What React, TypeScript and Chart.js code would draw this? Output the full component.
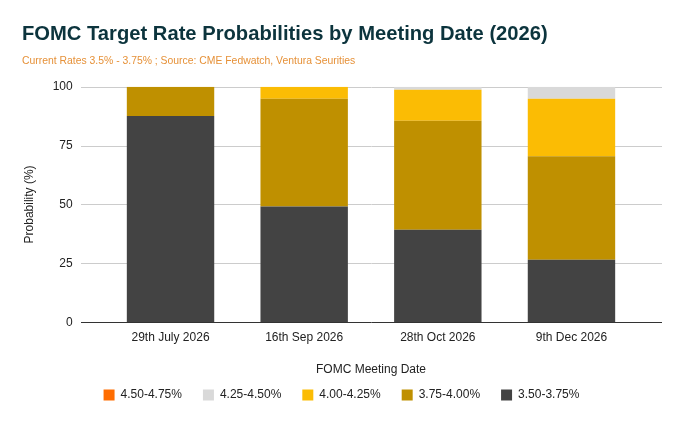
import React, { useEffect, useRef } from "react";
import { Chart, registerables } from "chart.js";

Chart.register(...registerables);

const categories = ["29th July 2026", "16th Sep 2026", "28th Oct 2026", "9th Dec 2026"];
const r350_375 = [87.6, 49.1, 39.3, 26.5];
const r375_400 = [12.4, 45.8, 46.2, 44.0];
const r400_425 = [0, 5.1, 13.2, 24.4];
const r425_450 = [0, 0, 1.3, 5.1];
const r450_475 = [0, 0, 0, 0];
const yTicks = [0, 25, 50, 75, 100];

const FONT = "Arial, 'Liberation Sans', sans-serif";

const gridPlugin = {
  id: "extGrid",
  beforeDatasetsDraw(chart: any) {
    const { ctx, scales } = chart;
    const y = scales.y;
    const x0 = 81;
    const x1 = 662;
    ctx.save();
    yTicks.forEach((v) => {
      const py = Math.round(y.getPixelForValue(v)) + 0.5;
      ctx.beginPath();
      ctx.strokeStyle = v === 0 ? "#333333" : "#cccccc";
      ctx.lineWidth = 1;
      ctx.moveTo(x0, py);
      ctx.lineTo(x1, py);
      ctx.stroke();
    });
    ctx.restore();
  },
};

export default function App() {
  const ref = useRef<HTMLCanvasElement | null>(null);
  useEffect(() => {
    document.body.style.margin = "0";
    const canvas = ref.current!;
    const chart = new Chart(canvas, {
      type: "bar",
      data: {
        labels: categories,
        datasets: [
          { label: "3.50-3.75%", data: r350_375, backgroundColor: "#434343" },
          { label: "3.75-4.00%", data: r375_400, backgroundColor: "#bf9000" },
          { label: "4.00-4.25%", data: r400_425, backgroundColor: "#fbbc04" },
          { label: "4.25-4.50%", data: r425_450, backgroundColor: "#d9d9d9" },
          { label: "4.50-4.75%", data: r450_475, backgroundColor: "#ff6d01" },
        ],
      },
      options: {
        responsive: false,
        animation: false,
        maintainAspectRatio: false,
        datasets: { bar: { barPercentage: 0.654, categoryPercentage: 1, borderWidth: 0 } } as any,
        layout: { padding: { left: 22, right: 22, top: 22, bottom: 12 } },
        plugins: {
          title: {
            display: true,
            text: "FOMC Target Rate Probabilities by Meeting Date (2026)",
            align: "start",
            color: "#0c343d",
            font: { family: FONT, size: 20.2, weight: "bold" },
            padding: { top: 0, bottom: 9 },
          },
          subtitle: {
            display: true,
            text: "Current Rates 3.5% - 3.75% ; Source: CME Fedwatch, Ventura Seurities",
            align: "start",
            color: "#e69138",
            font: { family: FONT, size: 10.4 },
            padding: { top: 0, bottom: 19 },
          },
          legend: {
            position: "bottom",
            reverse: true,
            labels: {
              boxWidth: 11,
              boxHeight: 11,
              padding: 21,
              color: "#222222",
              font: { family: FONT, size: 12 },
            },
          },
          tooltip: { enabled: false },
        },
        scales: {
          x: {
            stacked: true,
            grid: { display: false, drawTicks: false },
            border: { display: false },
            ticks: { color: "#222222", font: { family: FONT, size: 12 }, padding: 8, maxRotation: 0 },
            title: {
              display: true,
              text: "FOMC Meeting Date",
              color: "#222222",
              font: { family: FONT, size: 12 },
              padding: { top: 10, bottom: -9 },
            },
          },
          y: {
            stacked: true,
            min: 0,
            max: 100,
            afterFit: (scale: any) => {
              scale.width = 81.7;
            },
            afterBuildTicks: (scale: any) => {
              scale.ticks = yTicks.map((v) => ({ value: v }));
            },
            grid: { display: false, drawTicks: false },
            border: { display: false },
            ticks: { color: "#222222", font: { family: FONT, size: 12 }, padding: 31 },
            title: {
              display: true,
              text: "Probability (%)",
              color: "#222222",
              font: { family: FONT, size: 12 },
              padding: { top: 0, bottom: 0 },
            },
          },
          yRight: {
            type: "linear",
            position: "right",
            display: true,
            min: 0,
            max: 100,
            afterFit: (scale: any) => {
              scale.width = 22.7;
            },
            grid: { display: false, drawTicks: false },
            border: { display: false },
            ticks: { display: false },
          },
        },
      },
      plugins: [gridPlugin],
    } as any);
    return () => chart.destroy();
  }, []);
  return <canvas ref={ref} width={683} height={423} style={{ display: "block" }} />;
}
